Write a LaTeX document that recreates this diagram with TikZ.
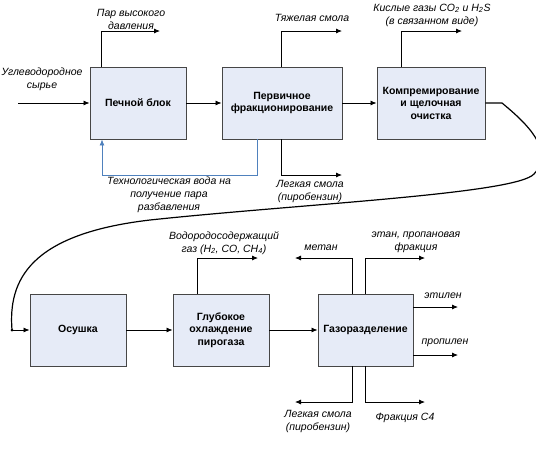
\documentclass[tikz,border=0pt]{standalone}
\usepackage{fontspec}
\setmainfont{Liberation Sans}
\usetikzlibrary{arrows.meta}
\definecolor{blokfill}{RGB}{230,235,247}
\definecolor{blokline}{RGB}{70,70,70}
\definecolor{voda}{RGB}{79,129,189}
\begin{document}
\begin{tikzpicture}[x=1pt,y=-1pt,>={Latex[length=6pt,width=5pt]},
    blok/.style={draw=blokline,fill=blokfill,line width=0.9pt,inner sep=0pt,
        align=center,font=\fontsize{10.5}{12.5}\selectfont\bfseries},
    lbl/.style={inner sep=0pt,align=center,font=\fontsize{10.5}{13}\selectfont\itshape},
    potok/.style={->,line width=0.8pt}]
\useasboundingbox (0,0) rectangle (536,451);

% upper row
\node[blok,minimum width=96pt,minimum height=72pt] (pech) at (138,103) {Печной блок};
\node[blok,minimum width=120pt,minimum height=72pt] (frak) at (282,103) {Первичное\\фракционирование};
\node[blok,minimum width=108pt,minimum height=72pt] (komp) at (431,103) {Компремирование\\и щелочная\\очистка};
% lower row
\node[blok,minimum width=96pt,minimum height=72pt] (osush) at (78,330) {Осушка};
\node[blok,minimum width=96pt,minimum height=72pt] (ohl) at (221,330) {Глубокое\\охлаждение\\пирогаза};
\node[blok,minimum width=95pt,minimum height=72pt] (gaz) at (365.5,330) {Газоразделение};

% free ends
\coordinate (syr) at (18,103);
\coordinate (par) at (160,31);
\coordinate (tyazh) at (342,31);
\coordinate (kisl) at (462,31);
\coordinate (legk) at (342,175);
\coordinate (vozv) at (102,175);
\coordinate (vhod) at (12,330);
\coordinate (vodor) at (258,258);
\coordinate (metan) at (295,258);
\coordinate (etan) at (425,258);
\coordinate (etil) at (458,307);
\coordinate (prop) at (458,355);
\coordinate (pirob) at (295,402);
\coordinate (frc) at (425,402);

\draw[potok] (syr) -- (pech.west);
\draw[potok] (pech) -- (frak);
\draw[potok] (frak) -- (komp);
\draw[potok] (pech.north west) ++(12,0) |- (par);
\draw[potok] (frak.north west) ++(60,0) |- (tyazh);
\draw[potok] (komp.north west) ++(25,0) |- (kisl);
\draw[potok] (frak.south west) ++(60,0) |- (legk);
\draw[potok,voda] (frak.south west) ++(36,0) |- (vozv) -- (vozv |- pech.south);

% transfer to the lower row
\draw[line width=1.2pt] (komp.east) -- (502,103)
    .. controls (525,122) and (556,150) .. (534,174)
    .. controls (516,194) and (300,204) .. (150,220)
    .. controls (30,234) and (8,280) .. (vhod);
\fill (vhod) circle (1.5pt);
\draw[potok] (vhod) -- (osush.west);

\draw[potok] (osush) -- (ohl);
\draw[potok] (ohl) -- (gaz);
\draw[potok] (ohl.north west) ++(25,0) |- (vodor);
\draw[potok] (gaz.north west) ++(35,0) |- (metan);
\draw[potok] (gaz.north west) ++(48,0) |- (etan);
\draw[potok] (gaz.east) ++(0,-23) -- (etil);
\draw[potok] (gaz.east) ++(0,25) -- (prop);
\draw[potok] (gaz.south west) ++(35,0) |- (pirob);
\draw[potok] (gaz.south west) ++(48,0) |- (frc);

% labels
\node[lbl] (lsyr) at (42,79) {Углеводородное\\сырье};
\node[lbl] (lpar) at (131,19) {Пар высокого\\давления};
\node[lbl] (ltyazh) at (312,18) {Тяжелая смола};
\node[lbl] (lkisl) at (432,15) {Кислые газы CO\textsubscript{2} и H\textsubscript{2}S\\(в связанном виде)};
\node[lbl] (llegk) at (310,191) {Легкая смола\\(пиробензин)};
\node[lbl] (lvoda) at (169,195) {Технологическая вода на\\получение пара\\разбавления};
\node[lbl] (lvodor) at (224,243) {Водородосодержащий\\газ (H\textsubscript{2}, CO, CH\textsubscript{4})};
\node[lbl] (lmetan) at (321,248) {метан};
\node[lbl] (letan) at (416,242) {этан, пропановая\\фракция};
\node[lbl] (letil) at (443,296) {этилен};
\node[lbl] (lprop) at (445,343) {пропилен};
\node[lbl] (lpirob) at (318,421) {Легкая смола\\(пиробензин)};
\node[lbl] (lfrc) at (405,418) {Фракция С4};
\end{tikzpicture}
\end{document}
